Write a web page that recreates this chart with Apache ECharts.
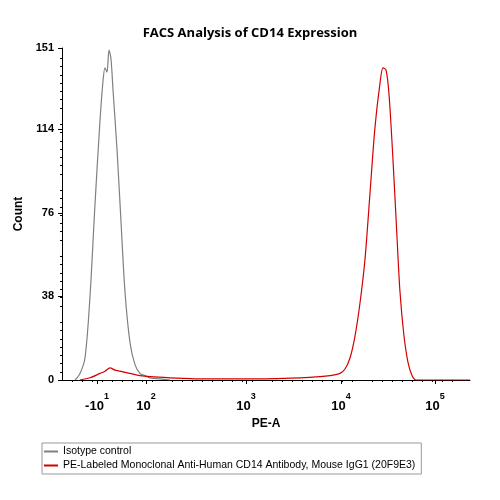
<!DOCTYPE html><html><head><meta charset="utf-8"><script src="https://cdn.jsdelivr.net/npm/echarts@6/dist/echarts.min.js"></script></head><body style="margin:0"><div id="c" style="width:500px;height:500px"></div><script>
const isotypeX=[13,18,23,28,33,38,41,43,45,47,49,51,55,59,63,68,73,78,83,88,98,108];
const isotypeY=[0,3,10,38,80,118,136,142,140,150,146,132,105,72,40,17,7,3,2,1,0.5,0];
const peX=[18,28,38,43,48,53,58,68,78,88,108,138,188,238,258,268,278,283,288,293,298,303,308,313,318,321,324,327,331,335,338,342,346,350,354,408];
const peY=[0,1,3,4,5.5,4.5,4,3,2,1.5,1,0.5,0.5,1,1.5,2,3,5,10,20,35,55,85,115,135,142,141,130,100,65,40,20,8,2,0,0];
const tickPos=[35,84,184,279,373];
const tickLab=[['-10','1'],['10','2'],['10','3'],['10','4'],['10','5']];
const yTicks=[0,38,76,114,151];
const names=['Isotype control','PE-Labeled Monoclonal Anti-Human CD14 Antibody, Mouse IgG1 (20F9E3)'];
const z=(x,y)=>x.map((v,i)=>[v,y[i]]);
const ch=echarts.init(document.getElementById('c'));
ch.setOption({
title:{text:'FACS Analysis of CD14 Expression',left:'center',top:22,textStyle:{fontSize:13,fontWeight:'bold',fontFamily:'Open Sans',color:'#000'}},
grid:{left:62,right:30,top:48,bottom:120},
xAxis:{type:'value',min:0,max:408,name:'PE-A',nameLocation:'middle',nameGap:32,nameTextStyle:{fontWeight:'bold',fontSize:12,color:'#000'},
 axisLine:{lineStyle:{color:'#000'}},splitLine:{show:false},
 axisTick:{customValues:tickPos,length:4,lineStyle:{color:'#000'}},
 minorTick:{show:true,splitNumber:10,length:2,lineStyle:{color:'#000'}},
 axisLabel:{customValues:tickPos,margin:4,formatter:v=>{const i=tickPos.indexOf(v);return i<0?'':'{b|'+tickLab[i][0]+'}{s|'+tickLab[i][1]+'}';},
 rich:{b:{fontSize:13,fontWeight:'bold',color:'#000',padding:[16,0,0,0]},s:{fontSize:9,fontWeight:'bold',color:'#000',padding:[0,0,4,0]}}}},
yAxis:{type:'value',min:0,max:151,name:'Count',nameLocation:'middle',nameGap:30,nameTextStyle:{fontWeight:'bold',fontSize:12,color:'#000'},
 axisLine:{show:true,lineStyle:{color:'#000'}},splitLine:{show:false},
 axisTick:{show:true,customValues:yTicks,length:4,lineStyle:{color:'#000'}},
 minorTick:{show:true,splitNumber:8,length:2,lineStyle:{color:'#000'}},
 axisLabel:{customValues:yTicks,fontWeight:'bold',fontSize:11,color:'#000'}},
legend:{orient:'vertical',left:42,top:443,itemWidth:14,itemHeight:2,itemGap:3,borderColor:'#999',borderWidth:1,padding:[3,6,3,2],
 textStyle:{fontSize:10.5,color:'#000'},data:names.map(n=>({name:n,icon:'rect'}))},
series:[
{name:names[0],type:'line',data:z(isotypeX,isotypeY),showSymbol:false,smooth:0.3,lineStyle:{color:'#808080',width:1.2},itemStyle:{color:'#808080'}},
{name:names[1],type:'line',data:z(peX,peY),showSymbol:false,smooth:0.3,lineStyle:{color:'#d40000',width:1.2},itemStyle:{color:'#d40000'}}
]});
</script></body></html>
